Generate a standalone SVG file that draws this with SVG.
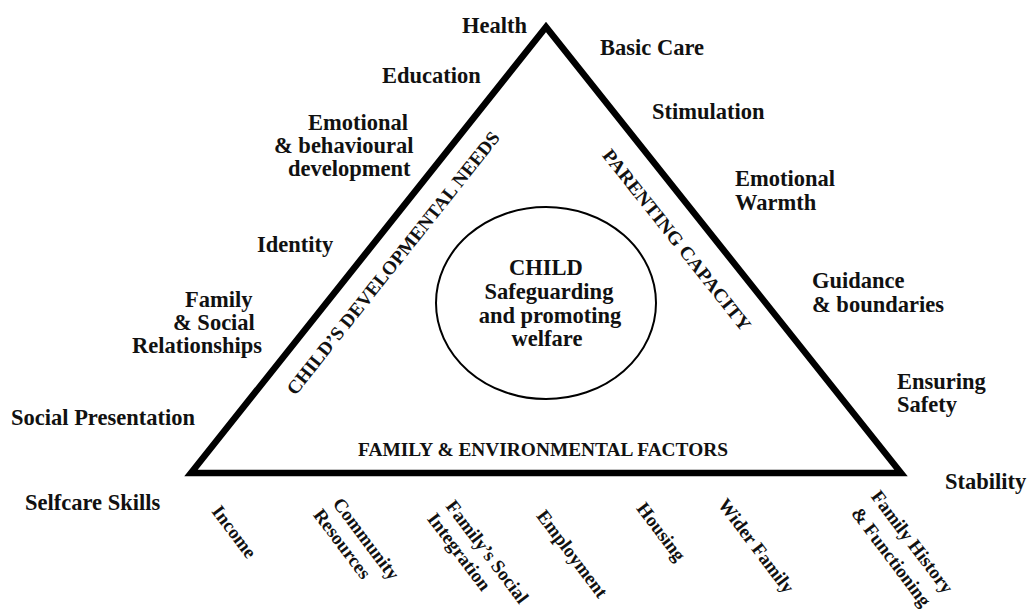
<svg xmlns="http://www.w3.org/2000/svg" width="1028" height="610" viewBox="0 0 1028 610">
<style>
  text { font-family: "Liberation Serif", "Times New Roman", serif; font-weight: bold; fill: #111; }
  .lbl { font-size: 22.5px; }
  .side { font-size: 19px; }
  .bot { font-size: 19px; }
  .tri { fill: #fff; stroke: #000; stroke-width: 6.5; stroke-linejoin: miter; }
  .circ { fill: none; stroke: #000; stroke-width: 2; }
</style>
<rect width="1028" height="610" fill="#fff"/>
<g id="connectors">
  <polygon id="triangle" class="tri" points="546,27 191,473 901,473"/>
</g>
<g id="child">
  <ellipse class="circ" cx="546" cy="303" rx="110" ry="96"/>
  <text class="lbl" x="546" y="275" text-anchor="middle">CHILD</text>
  <text class="lbl" x="549" y="299" text-anchor="middle">Safeguarding</text>
  <text class="lbl" x="550" y="323" text-anchor="middle">and promoting</text>
  <text class="lbl" x="547" y="346" text-anchor="middle">welfare</text>
</g>
<g id="side-needs">
  <text class="side" transform="translate(393,263) rotate(-51.5)" x="0" y="6.5" text-anchor="middle" textLength="330" lengthAdjust="spacingAndGlyphs">CHILD’S DEVELOPMENTAL NEEDS</text>
</g>
<g id="side-parenting">
  <text class="side" transform="translate(677,240) rotate(51.5)" x="0" y="6.5" text-anchor="middle" textLength="226" lengthAdjust="spacingAndGlyphs">PARENTING CAPACITY</text>
</g>
<g id="side-family">
  <text class="side" x="543" y="456" text-anchor="middle" textLength="370" lengthAdjust="spacingAndGlyphs">FAMILY &amp; ENVIRONMENTAL FACTORS</text>
</g>
<g id="n-health"><text class="lbl" x="462" y="33">Health</text></g>
<g id="n-education"><text class="lbl" x="382" y="83">Education</text></g>
<g id="n-emotional-dev">
  <text class="lbl" x="308" y="130">Emotional</text>
  <text class="lbl" x="274" y="153">&amp; behavioural</text>
  <text class="lbl" x="288" y="176">development</text>
</g>
<g id="n-identity"><text class="lbl" x="257" y="252">Identity</text></g>
<g id="n-family-social">
  <text class="lbl" x="185" y="307">Family</text>
  <text class="lbl" x="173" y="330">&amp; Social</text>
  <text class="lbl" x="132" y="353">Relationships</text>
</g>
<g id="n-social-presentation"><text class="lbl" x="11" y="425">Social Presentation</text></g>
<g id="n-selfcare"><text class="lbl" x="25" y="510">Selfcare Skills</text></g>
<g id="n-basic-care"><text class="lbl" x="600" y="55">Basic Care</text></g>
<g id="n-stimulation"><text class="lbl" x="652" y="119">Stimulation</text></g>
<g id="n-emotional-warmth">
  <text class="lbl" x="735" y="186">Emotional</text>
  <text class="lbl" x="735" y="210">Warmth</text>
</g>
<g id="n-guidance">
  <text class="lbl" x="812" y="288">Guidance</text>
  <text class="lbl" x="812" y="312">&amp; boundaries</text>
</g>
<g id="n-safety">
  <text class="lbl" x="897" y="389">Ensuring</text>
  <text class="lbl" x="897" y="412">Safety</text>
</g>
<g id="n-stability"><text class="lbl" x="945" y="489">Stability</text></g>
<g id="n-income"><text class="bot" transform="translate(234,532) rotate(53)" y="6" text-anchor="middle">Income</text></g>
<g id="n-community">
  <text class="bot" transform="translate(366,539) rotate(53)" y="6" text-anchor="middle">Community</text>
  <text class="bot" transform="translate(342,544) rotate(53)" y="6" text-anchor="middle">Resources</text>
</g>
<g id="n-social-integration">
  <text class="bot" transform="translate(487,552) rotate(53)" y="6" text-anchor="middle">Family’s Social</text>
  <text class="bot" transform="translate(459,552) rotate(53)" y="6" text-anchor="middle">Integration</text>
</g>
<g id="n-employment"><text class="bot" transform="translate(572,554) rotate(53)" y="6" text-anchor="middle">Employment</text></g>
<g id="n-housing"><text class="bot" transform="translate(661,532) rotate(53)" y="6" text-anchor="middle">Housing</text></g>
<g id="n-wider-family"><text class="bot" transform="translate(756,546) rotate(53)" y="6" text-anchor="middle">Wider Family</text></g>
<g id="n-family-history">
  <text class="bot" transform="translate(912,542) rotate(53)" y="6" text-anchor="middle">Family History</text>
  <text class="bot" transform="translate(891,557) rotate(53)" y="6" text-anchor="middle">&amp; Functioning</text>
</g>
</svg>
